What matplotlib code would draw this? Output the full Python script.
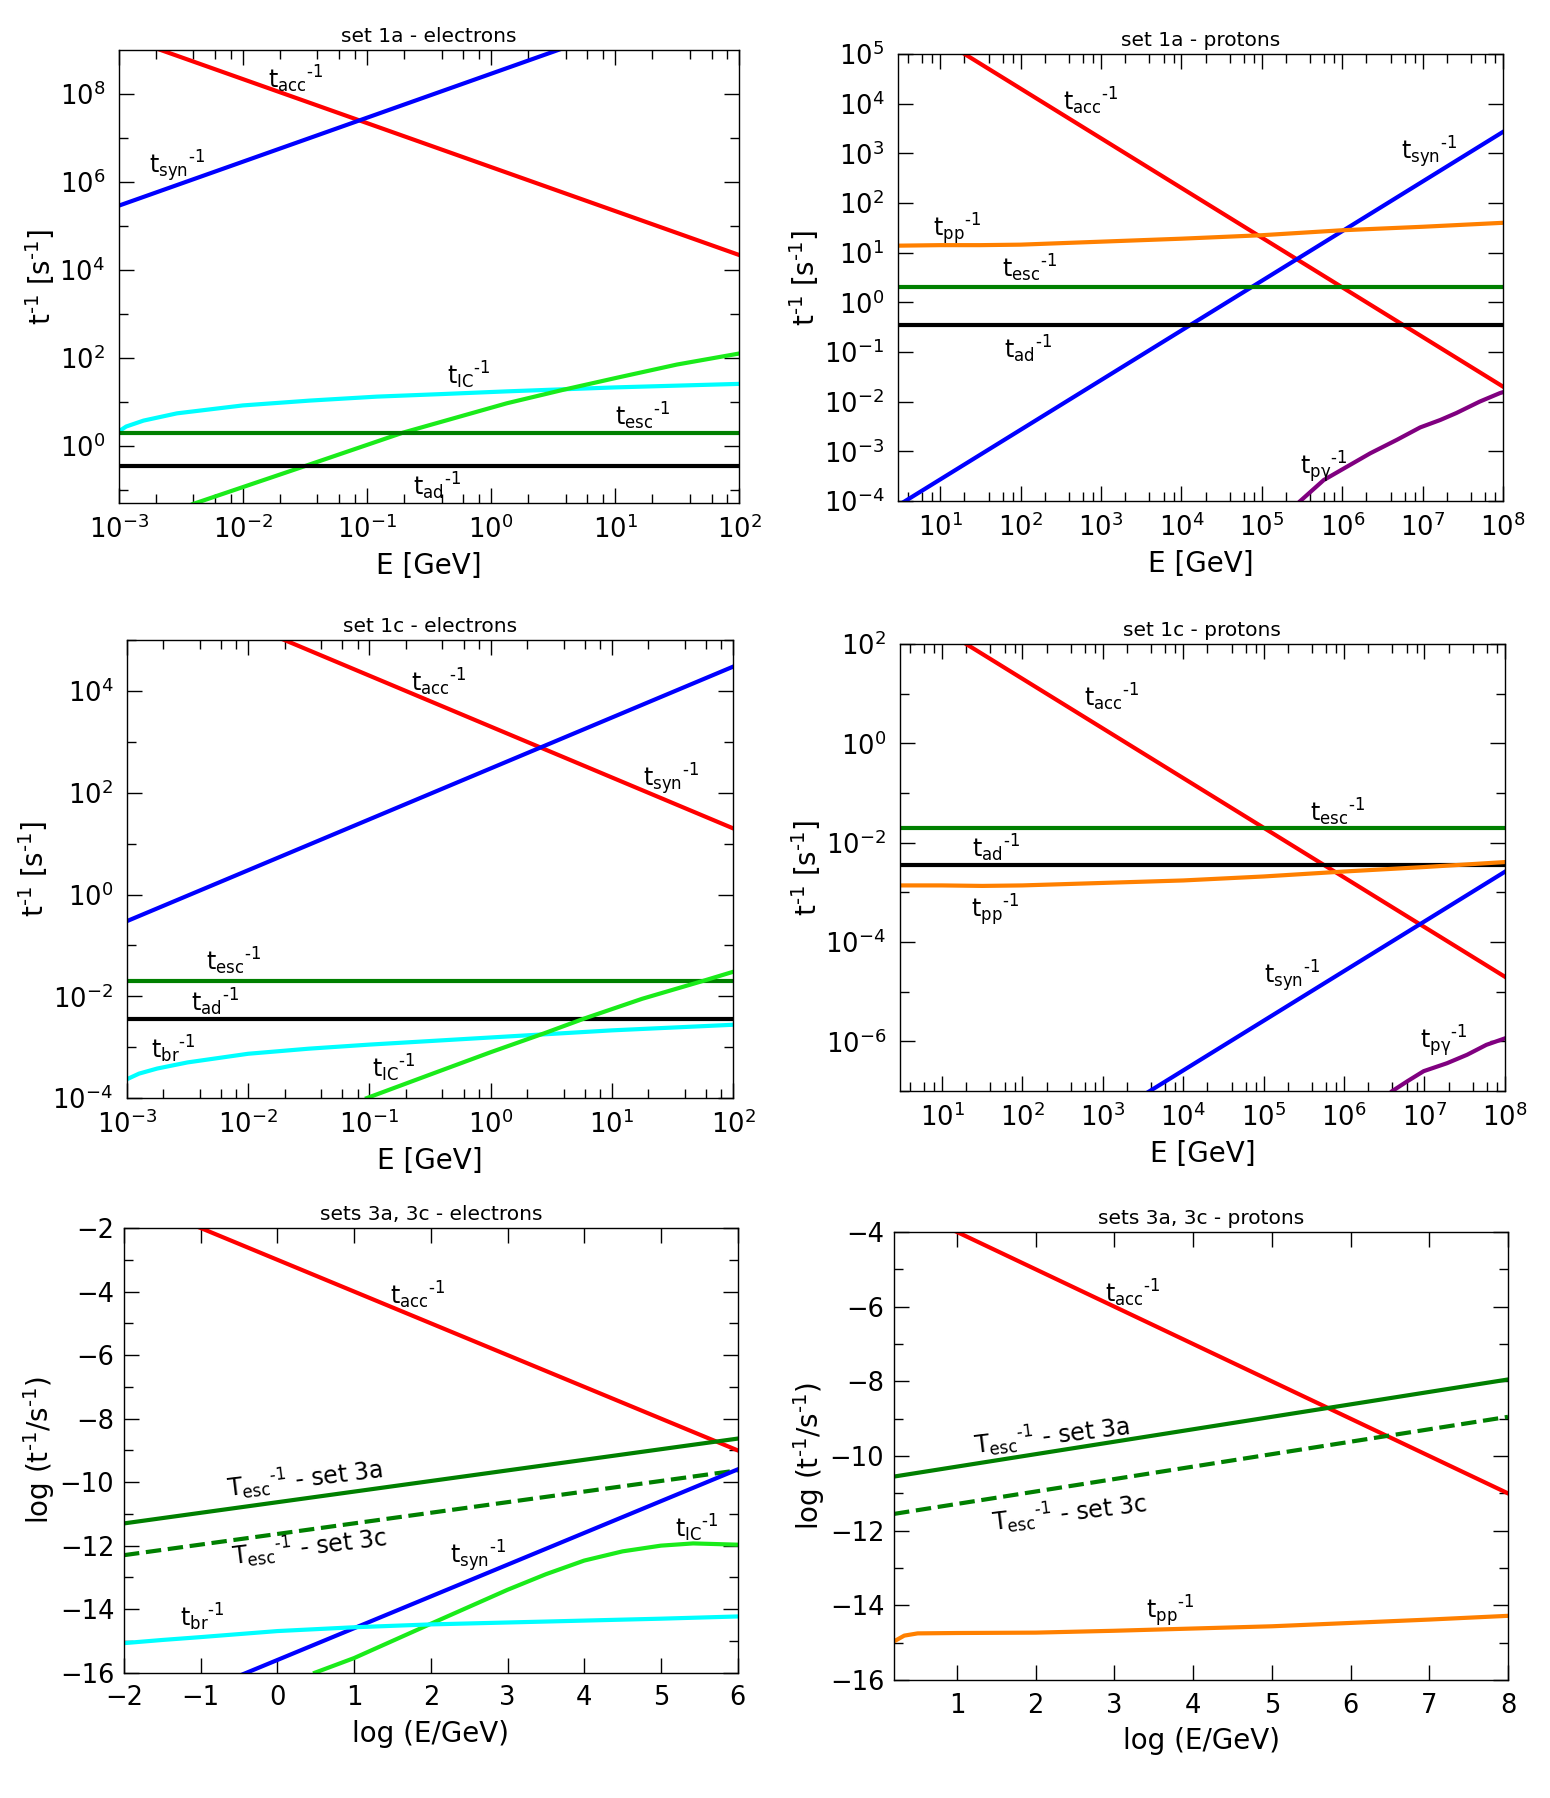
import numpy as np
import matplotlib
matplotlib.use('Agg')
import matplotlib.pyplot as plt
from matplotlib.ticker import (FixedLocator, NullFormatter, LogLocator,
                               LogFormatterSciNotation, MultipleLocator)

plt.rcParams['font.family'] = 'DejaVu Sans'
plt.rcParams['mathtext.default'] = 'regular'
plt.rcParams['axes.linewidth'] = 1.0

RED = '#ff0000'
BLUE = '#0000ff'
CYAN = '#00ffff'
DKGREEN = '#008000'
LIME = '#1aeb1a'
ORANGE = '#ff8000'
PURPLE = '#800080'
LW = 3.0
HY = '\u2010'  # short hyphen used in the "-1" exponents

# ---- set 1a - electrons (values in s^-1, E in GeV) ----
e1a_E = [1e-3, 1e2]
e1a_acc = [2.2e9, 2.2e4]
e1a_syn = [2.9e5, 2.9e10]
e1a_esc = [2.0, 2.0]
e1a_ad = [0.34, 0.34]
e1a_cyan_logE = [-3.0, -2.94, -2.8, -2.53, -2.0, -1.46, -0.92, -0.38, 0.13, 1.0, 2.0]
e1a_cyan_logt = [0.33, 0.44, 0.575, 0.74, 0.92, 1.03, 1.12, 1.18, 1.24, 1.33, 1.41]
e1a_lime_logE = [-2.40, -1.51, -0.71, 0.13, 0.59, 1.0, 1.5, 2.0]
e1a_lime_logt = [-1.32, -0.47, 0.30, 0.97, 1.28, 1.54, 1.85, 2.10]

# ---- set 1a - protons ----
p1a_E = [3.0, 1e8]
p1a_acc = [6.7e5, 0.02]
p1a_syn = [8.1e-5, 2.7e3]
p1a_esc = [2.0, 2.0]
p1a_ad = [0.35, 0.35]
p1a_pp_logE = [0.5, 1.0, 1.5, 2.0, 3.0, 4.0, 5.0, 6.0, 7.0, 8.0]
p1a_pp_logt = [1.14, 1.15, 1.15, 1.16, 1.22, 1.28, 1.35, 1.45, 1.52, 1.60]
p1a_pg_logE = [5.48, 5.77, 6.06, 6.35, 6.68, 6.97, 7.22, 7.42, 7.71, 7.96, 8.0]
p1a_pg_logt = [-4.0, -3.58, -3.31, -3.04, -2.77, -2.52, -2.37, -2.23, -2.0, -1.83, -1.81]

# ---- set 1c - electrons ----
e1c_E = [1e-3, 1e2]
e1c_acc = [2e6, 20.0]
e1c_syn = [0.3, 3e4]
e1c_esc = [0.02, 0.02]
e1c_ad = [0.0036, 0.0036]
e1c_br_logE = [-3.0, -2.9, -2.75, -2.5, -2.0, -1.5, -1.0, 0.0, 1.0, 2.0]
e1c_br_logt = [-3.63, -3.52, -3.42, -3.30, -3.13, -3.03, -2.95, -2.81, -2.67, -2.56]
e1c_ic_logE = [-1.02, -0.5, 0.0, 0.44, 0.77, 1.25, 1.75, 2.0]
e1c_ic_logt = [-4.0, -3.54, -3.10, -2.73, -2.44, -2.05, -1.70, -1.52]

# ---- set 1c - protons ----
p1c_E = [3.0, 1e8]
p1c_acc = [667.0, 2e-5]
p1c_syn = [7.8e-11, 2.6e-3]
p1c_esc = [0.02, 0.02]
p1c_ad = [0.0035, 0.0035]
p1c_pp_logE = [0.5, 1.0, 1.5, 2.0, 3.0, 4.0, 5.0, 6.0, 7.0, 8.0]
p1c_pp_logt = [-2.86, -2.86, -2.87, -2.86, -2.81, -2.76, -2.68, -2.58, -2.49, -2.39]
p1c_pg_logE = [6.6, 6.79, 6.99, 7.28, 7.53, 7.77, 8.0]
p1c_pg_logt = [-7.0, -6.8, -6.6, -6.44, -6.27, -6.07, -5.94]

# ---- sets 3a, 3c - electrons (log-log values) ----
e3_x = [-2.0, 6.0]
e3_acc = [-1.0, -9.0]
e3_esc_a = [-11.3, -8.63]
e3_esc_c = [-12.3, -9.63]
e3_syn = [-17.6, -9.6]
e3_ic_x = [0.49, 1.0, 2.0, 3.0, 3.5, 4.0, 4.5, 5.0, 5.42, 6.0]
e3_ic_y = [-16.0, -15.54, -14.46, -13.39, -12.90, -12.47, -12.18, -12.00, -11.93, -11.97]
e3_br_x = [-2.0, -1.5, -1.0, 0.0, 1.0, 2.0, 3.0, 4.0, 5.0, 6.0]
e3_br_y = [-15.07, -14.97, -14.88, -14.69, -14.57, -14.48, -14.42, -14.36, -14.30, -14.23]

# ---- sets 3a, 3c - protons ----
p3_x = [0.2, 8.0]
p3_acc = [-3.2, -11.0]
p3_esc_a = [-10.55, -7.95]
p3_esc_c = [-11.55, -8.95]
p3_pp_x = [0.22, 0.33, 0.5, 1.0, 2.0, 3.0, 4.0, 5.0, 6.0, 7.0, 8.0]
p3_pp_y = [-14.94, -14.81, -14.75, -14.74, -14.73, -14.68, -14.62, -14.56, -14.47, -14.38, -14.28]


def lab(sub, cap='t'):
    return cap + '$_{' + sub + '}$$^{' + HY + '1}$'


def style(ax, xpad, ypad):
    ax.tick_params(which='both', direction='in', top=True, right=True,
                   labelsize=18.5, width=1.0)
    ax.tick_params(which='major', length=10.5)
    ax.tick_params(which='minor', length=6.5)
    ax.tick_params(axis='x', which='both', pad=xpad)
    ax.tick_params(axis='y', which='both', pad=ypad)


def log_panel(rect, xlim, ylim, xmaj, ymaj, ymin, title):
    ax = fig.add_axes(rect)
    ax.set_xscale('log')
    ax.set_yscale('log')
    ax.set_xlim(xlim)
    ax.set_ylim(ylim)
    ax.xaxis.set_major_locator(FixedLocator(xmaj))
    ax.xaxis.set_minor_locator(LogLocator(base=10, subs=(2, 4, 6, 8), numticks=30))
    ax.yaxis.set_major_locator(FixedLocator(ymaj))
    ax.yaxis.set_minor_locator(FixedLocator(ymin))
    ax.xaxis.set_major_formatter(LogFormatterSciNotation())
    ax.yaxis.set_major_formatter(LogFormatterSciNotation())
    ax.xaxis.set_minor_formatter(NullFormatter())
    ax.yaxis.set_minor_formatter(NullFormatter())
    style(ax, 9, 10)
    ax.set_xlabel('E [GeV]', fontsize=20, labelpad=6)
    ax.set_ylabel('t$^{' + HY + '1}$ [s$^{' + HY + '1}$]', fontsize=20, labelpad=2)
    ax.set_title(title, fontsize=14.5, pad=6)
    return ax


def lin_panel(rect, xlim, ylim, title):
    ax = fig.add_axes(rect)
    ax.set_xlim(xlim)
    ax.set_ylim(ylim)
    ax.xaxis.set_major_locator(MultipleLocator(1))
    ax.yaxis.set_major_locator(MultipleLocator(2))
    ax.yaxis.set_minor_locator(MultipleLocator(1))
    style(ax, 9, 7)
    ax.set_xlabel('log (E/GeV)', fontsize=20, labelpad=6)
    ax.set_ylabel('log (t$^{' + HY + '1}$/s$^{' + HY + '1}$)', fontsize=20, labelpad=2)
    ax.set_title(title, fontsize=14.5, pad=6)
    return ax


def txt(ax, x, y, s, **kw):
    ax.text(x, y, s, fontsize=17, ha='left', va='center', **kw)


def p10(v):
    return [10.0 ** a for a in v]


fig = plt.figure(figsize=(15.5, 17.98), dpi=100)

# set 1a - electrons
ax = log_panel([0.0766, 0.7202, 0.4002, 0.2519], (1e-3, 1e2), (0.05, 1e9),
               p10(range(-3, 3)), p10(range(0, 9, 2)), p10(range(-1, 9, 2)),
               'set 1a - electrons')
ax.plot(e1a_E, e1a_acc, color=RED, lw=LW)
ax.plot(e1a_E, e1a_syn, color=BLUE, lw=LW)
ax.plot(p10(e1a_cyan_logE), p10(e1a_cyan_logt), color=CYAN, lw=LW)
ax.plot(p10(e1a_lime_logE), p10(e1a_lime_logt), color=LIME, lw=LW)
ax.plot(e1a_E, e1a_esc, color=DKGREEN, lw=LW)
ax.plot(e1a_E, e1a_ad, color='black', lw=LW)
txt(ax, 10 ** -1.80, 10 ** 8.34, lab('acc'))
txt(ax, 10 ** -2.76, 10 ** 6.36, lab('syn'))
txt(ax, 10 ** -0.35, 10 ** 1.61, lab('IC'))
txt(ax, 10 ** 1.0, 10 ** 0.67, lab('esc'))
txt(ax, 10 ** -0.63, 10 ** -0.91, lab('ad'))

# set 1a - protons
ax = log_panel([0.5794, 0.7214, 0.3903, 0.2486], (3, 1e8), (1e-4, 1e5),
               p10(range(1, 9)), p10(range(-4, 6)), [],
               'set 1a - protons')
ax.plot(p1a_E, p1a_acc, color=RED, lw=LW)
ax.plot(p1a_E, p1a_syn, color=BLUE, lw=LW)
ax.plot(p10(p1a_pp_logE), p10(p1a_pp_logt), color=ORANGE, lw=LW)
ax.plot(p1a_E, p1a_esc, color=DKGREEN, lw=LW)
ax.plot(p1a_E, p1a_ad, color='black', lw=LW)
ax.plot(p10(p1a_pg_logE), p10(p1a_pg_logt), color=PURPLE, lw=LW)
txt(ax, 10 ** 2.53, 10 ** 4.05, lab('acc'))
txt(ax, 10 ** 6.73, 10 ** 3.03, lab('syn'))
txt(ax, 10 ** 0.91, 10 ** 1.48, lab('pp'))
txt(ax, 10 ** 1.77, 10 ** 0.69, lab('esc'))
txt(ax, 10 ** 1.80, 10 ** -0.94, lab('ad'))
txt(ax, 10 ** 5.48, 10 ** -3.32, lab('p\u03b3'))

# set 1c - electrons
ax = log_panel([0.0819, 0.3893, 0.3910, 0.2547], (1e-3, 1e2), (1e-4, 1e5),
               p10(range(-3, 3)), p10(range(-4, 5, 2)), p10(range(-3, 6, 2)),
               'set 1c - electrons')
ax.plot(e1c_E, e1c_acc, color=RED, lw=LW)
ax.plot(e1c_E, e1c_syn, color=BLUE, lw=LW)
ax.plot(e1c_E, e1c_esc, color=DKGREEN, lw=LW)
ax.plot(e1c_E, e1c_ad, color='black', lw=LW)
ax.plot(p10(e1c_br_logE), p10(e1c_br_logt), color=CYAN, lw=LW)
ax.plot(p10(e1c_ic_logE), p10(e1c_ic_logt), color=LIME, lw=LW)
txt(ax, 10 ** -0.66, 10 ** 4.18, lab('acc'))
txt(ax, 10 ** 1.26, 10 ** 2.27, lab('syn'))
txt(ax, 10 ** -2.35, 10 ** -1.31, lab('esc'))
txt(ax, 10 ** -2.47, 10 ** -2.12, lab('ad'))
txt(ax, 10 ** -2.80, 10 ** -3.04, lab('br'))
txt(ax, 10 ** -0.98, 10 ** -3.41, lab('IC'))

# set 1c - protons
ax = log_panel([0.5806, 0.3932, 0.3903, 0.2486], (3, 1e8), (1e-7, 1e2),
               p10(range(1, 9)), p10(range(-6, 3, 2)), p10(range(-7, 2, 2)),
               'set 1c - protons')
ax.plot(p1c_E, p1c_acc, color=RED, lw=LW)
ax.plot(p1c_E, p1c_esc, color=DKGREEN, lw=LW)
ax.plot(p1c_E, p1c_ad, color='black', lw=LW)
ax.plot(p10(p1c_pp_logE), p10(p1c_pp_logt), color=ORANGE, lw=LW)
ax.plot(p1c_E, p1c_syn, color=BLUE, lw=LW)
ax.plot(p10(p1c_pg_logE), p10(p1c_pg_logt), color=PURPLE, lw=LW)
txt(ax, 10 ** 2.77, 10 ** 0.92, lab('acc'))
txt(ax, 10 ** 5.58, 10 ** -1.39, lab('esc'))
txt(ax, 10 ** 1.37, 10 ** -2.11, lab('ad'))
txt(ax, 10 ** 1.36, 10 ** -3.35, lab('pp'))
txt(ax, 10 ** 5.0, 10 ** -4.68, lab('syn'))
txt(ax, 10 ** 6.95, 10 ** -6.0, lab('p\u03b3'))

# sets 3a, 3c - electrons
ax = lin_panel([0.0800, 0.0697, 0.3959, 0.2473], (-2, 6), (-16, -2),
               'sets 3a, 3c - electrons')
ax.plot(e3_x, e3_acc, color=RED, lw=LW)
ax.plot(e3_x, e3_esc_a, color=DKGREEN, lw=LW)
ax.plot(e3_x, e3_esc_c, color=DKGREEN, lw=LW, ls='--')
ax.plot(e3_x, e3_syn, color=BLUE, lw=LW)
ax.plot(e3_ic_x, e3_ic_y, color=LIME, lw=LW)
ax.plot(e3_br_x, e3_br_y, color=CYAN, lw=LW)
txt(ax, 1.47, -4.12, lab('acc'))
txt(ax, -0.66, -10.2, lab('esc', 'T') + ' - set 3a', rotation=7, rotation_mode='anchor')
txt(ax, -0.59, -12.35, lab('esc', 'T') + ' - set 3c', rotation=7, rotation_mode='anchor')
txt(ax, 2.25, -12.33, lab('syn'))
txt(ax, 5.18, -11.46, lab('IC'))
txt(ax, -1.27, -14.26, lab('br'))

# sets 3a, 3c - protons
ax = lin_panel([0.5768, 0.0656, 0.3961, 0.2492], (0.2, 8), (-16, -4),
               'sets 3a, 3c - protons')
ax.plot(p3_x, p3_acc, color=RED, lw=LW)
ax.plot(p3_x, p3_esc_a, color=DKGREEN, lw=LW)
ax.plot(p3_x, p3_esc_c, color=DKGREEN, lw=LW, ls='--')
ax.plot(p3_pp_x, p3_pp_y, color=ORANGE, lw=LW)
txt(ax, 2.88, -5.63, lab('acc'))
txt(ax, 1.22, -9.72, lab('esc', 'T') + ' - set 3a', rotation=7, rotation_mode='anchor')
txt(ax, 1.44, -11.78, lab('esc', 'T') + ' - set 3c', rotation=7, rotation_mode='anchor')
txt(ax, 3.4, -14.16, lab('pp'))

fig.savefig('out.png', dpi=100)
